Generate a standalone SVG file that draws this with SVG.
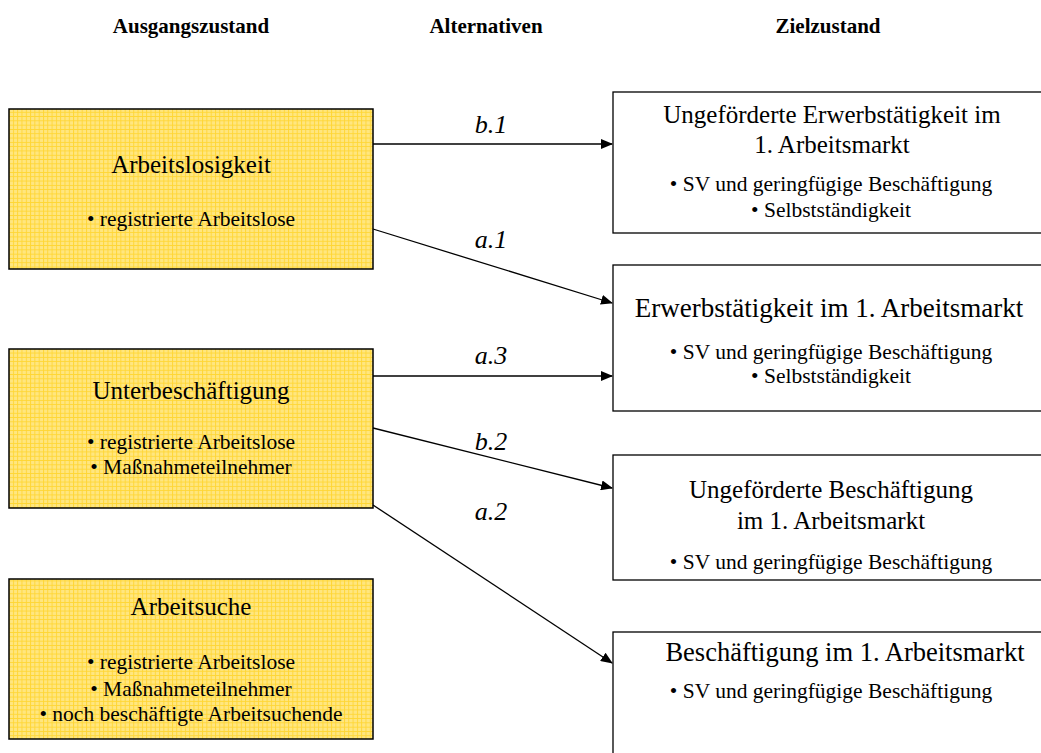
<svg xmlns="http://www.w3.org/2000/svg" width="1041" height="753" viewBox="0 0 1041 753">
<style>
text{font-family:"Liberation Serif","Times New Roman",serif;fill:#000;text-anchor:middle}
.h{font-weight:bold;font-size:21px}
.t{font-size:25px}
.b{font-size:21.5px}
.l{font-size:26px;font-style:italic}
.y{fill:url(#grid);stroke:#000;stroke-width:1.5}
.w{fill:#fff;stroke:#000;stroke-width:1.3}
.c{stroke:#000;stroke-width:1.3;fill:none;marker-end:url(#ah)}
</style>
<defs>
<pattern id="grid" width="4.3" height="4.3" patternUnits="userSpaceOnUse">
<rect width="4.3" height="4.3" fill="#FFE680"/>
<path d="M0 0.5H4.3M0.5 0V4.3" stroke="#FFD633" stroke-width="0.9"/>
</pattern>
<marker id="ah" markerWidth="12" markerHeight="10" refX="11" refY="5" orient="auto" markerUnits="userSpaceOnUse">
<path d="M0 0L12 5L0 10z" fill="#000"/>
</marker>
</defs>
<g id="headers">
<text class="h" x="191" y="33">Ausgangszustand</text>
<text class="h" x="486" y="33">Alternativen</text>
<text class="h" x="828" y="33">Zielzustand</text>
</g>
<g id="n1">
<rect class="y" x="9" y="109" width="364" height="160"/>
<text class="t" x="191" y="173">Arbeitslosigkeit</text>
<text class="b" x="191" y="226">• registrierte Arbeitslose</text>
</g>
<g id="n2">
<rect class="y" x="9" y="349" width="364" height="159"/>
<text class="t" x="191" y="399">Unterbeschäftigung</text>
<text class="b" x="191" y="449">• registrierte Arbeitslose</text>
<text class="b" x="191" y="474">• Maßnahmeteilnehmer</text>
</g>
<g id="n3">
<rect class="y" x="9" y="579" width="364" height="160"/>
<text class="t" x="191" y="615">Arbeitsuche</text>
<text class="b" x="191" y="669">• registrierte Arbeitslose</text>
<text class="b" x="191" y="696">• Maßnahmeteilnehmer</text>
<text class="b" x="191" y="721">• noch beschäftigte Arbeitsuchende</text>
</g>
<g id="z1">
<rect class="w" x="613" y="92" width="440" height="141"/>
<text class="t" x="832" y="123">Ungeförderte Erwerbstätigkeit im</text>
<text class="t" x="832" y="153">1. Arbeitsmarkt</text>
<text class="b" x="831" y="191">• SV und geringfügige Beschäftigung</text>
<text class="b" x="831" y="217">• Selbstständigkeit</text>
</g>
<g id="z2">
<rect class="w" x="613" y="265" width="440" height="146"/>
<text class="t" x="829" y="317" style="font-size:27px">Erwerbstätigkeit im 1. Arbeitsmarkt</text>
<text class="b" x="831" y="359">• SV und geringfügige Beschäftigung</text>
<text class="b" x="831" y="383">• Selbstständigkeit</text>
</g>
<g id="z3">
<rect class="w" x="613" y="455" width="440" height="125"/>
<text class="t" x="831" y="498">Ungeförderte Beschäftigung</text>
<text class="t" x="831" y="529">im 1. Arbeitsmarkt</text>
<text class="b" x="831" y="569">• SV und geringfügige Beschäftigung</text>
</g>
<g id="z4">
<rect class="w" x="613" y="632" width="440" height="140"/>
<text class="t" x="845" y="661" style="font-size:26.5px">Beschäftigung im 1. Arbeitsmarkt</text>
<text class="b" x="831" y="698">• SV und geringfügige Beschäftigung</text>
</g>
<g id="connectors">
<line class="c" x1="373" y1="144" x2="612" y2="144"/>
<line class="c" x1="373" y1="229" x2="612" y2="303"/>
<line class="c" x1="373" y1="376" x2="612" y2="376"/>
<line class="c" x1="373" y1="428" x2="612" y2="488"/>
<line class="c" x1="373" y1="505" x2="612" y2="663"/>
<text class="l" x="491" y="133">b.1</text>
<text class="l" x="491" y="248">a.1</text>
<text class="l" x="491" y="364">a.3</text>
<text class="l" x="491" y="450">b.2</text>
<text class="l" x="491" y="520">a.2</text>
</g>
</svg>
